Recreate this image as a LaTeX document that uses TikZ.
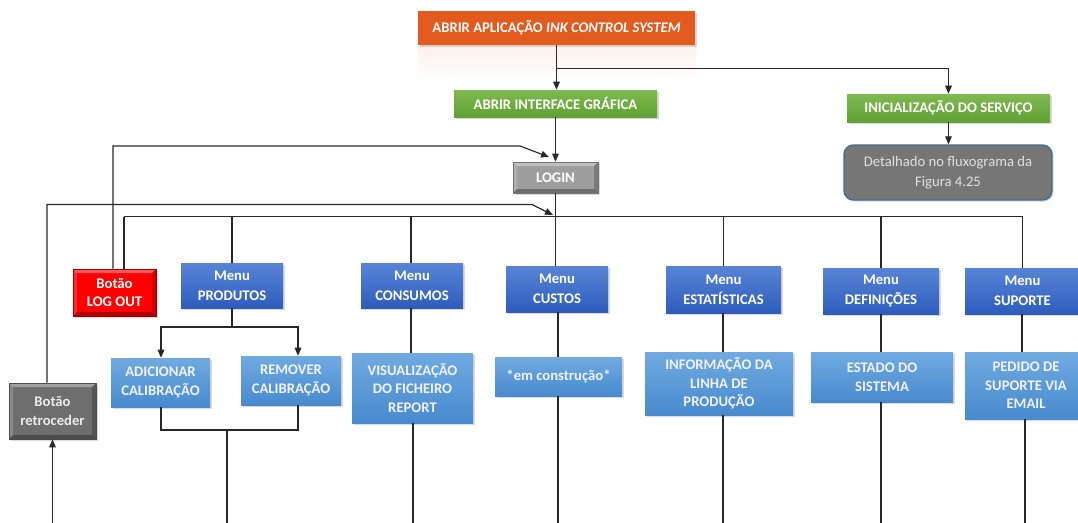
\documentclass[tikz,border=0pt]{standalone}
\usepackage{fontspec}
\setmainfont{Carlito}
\usetikzlibrary{arrows.meta,shadows}

\definecolor{appOr}{RGB}{226,90,30}
\definecolor{grTop}{RGB}{128,186,80}
\definecolor{grBot}{RGB}{96,160,52}
\definecolor{mnTop}{RGB}{88,132,214}
\definecolor{mnBot}{RGB}{46,92,188}
\definecolor{sbTop}{RGB}{112,170,224}
\definecolor{sbBot}{RGB}{72,138,206}
\definecolor{detFill}{RGB}{118,118,118}
\definecolor{detLine}{RGB}{70,105,145}
\definecolor{wireC}{RGB}{40,40,40}

\begin{document}
\begin{tikzpicture}[x=0.75pt,y=-0.75pt,
  sz/.style 2 args={minimum width=#1*0.75pt, minimum height=#2*0.75pt, inner sep=0pt},
  base/.style={font=\bfseries\fontsize{11}{14}\selectfont, text=white, align=center},
  shad/.style={drop shadow={shadow xshift=1.2pt, shadow yshift=-1.2pt, opacity=0.3}},
  appbox/.style={base, shad, fill=appOr},
  greenbox/.style={base, shad, top color=grTop, bottom color=grBot},
  menubox/.style={base, shad, top color=mnTop, bottom color=mnBot,
    font=\bfseries\fontsize{11}{15}\selectfont},
  subbox/.style={base, shad, top color=sbTop, bottom color=sbBot, text=white!95!blue},
  detbox/.style={shad, fill=detFill, draw=detLine, line width=1pt, rounded corners=7pt,
    font=\fontsize{11}{15}\selectfont, text=white!88!black, align=center},
  bevelbox/.style 2 args={base, shad, fill=#1, draw=#2, line width=0.6pt,
    path picture={
      \path (path picture bounding box.north west) coordinate (pNW)
            (path picture bounding box.north east) coordinate (pNE)
            (path picture bounding box.south west) coordinate (pSW)
            (path picture bounding box.south east) coordinate (pSE);
      \fill[white,opacity=0.35] (pNW) -- (pNE) -- ([shift={(-3pt,-3pt)}]pNE)
            -- ([shift={(3pt,-3pt)}]pNW) -- cycle;
      \fill[white,opacity=0.18] (pNW) -- ([shift={(3pt,-3pt)}]pNW)
            -- ([shift={(3pt,3pt)}]pSW) -- (pSW) -- cycle;
      \fill[black,opacity=0.3] (pSW) -- ([shift={(3pt,3pt)}]pSW)
            -- ([shift={(-3pt,3pt)}]pSE) -- (pSE) -- cycle;
      \fill[black,opacity=0.22] (pNE) -- (pSE) -- ([shift={(-3pt,3pt)}]pSE)
            -- ([shift={(-3pt,-3pt)}]pNE) -- cycle;
    }},
  wire/.style={draw=wireC, line width=0.85pt},
  arr/.style={wire, -{Triangle[length=6pt,width=5pt]}}
]
\useasboundingbox (0,0) rectangle (1078,522);
\clip (0,0) rectangle (1078,522);

% faint reflection below the start box
\shade[top color=appOr!9, bottom color=white] (418,45) rectangle (696,80);

% start and top-level boxes
\node[appbox, sz={277}{34}] (app) at (556.5,28) {ABRIR APLICAÇÃO \textit{INK CONTROL SYSTEM}};
\node[greenbox, sz={203}{27}] (gui) at (555.5,103.5) {ABRIR INTERFACE GRÁFICA};
\node[greenbox, sz={203}{28}] (svc) at (948.5,108) {INICIALIZAÇÃO DO SERVIÇO};
\node[detbox, sz={208}{55}] (det) at (948,172.5) {Detalhado no fluxograma da\\Figura 4.25};
\node[bevelbox={black!38}{black!55}, sz={85}{31}] (login) at (555.5,177.5) {LOGIN};

% buttons
\node[bevelbox={red}{red!60!black}, sz={83}{47}] (logout) at (114.5,292.5) {Botão\\LOG OUT};
\node[bevelbox={black!57}{black!70}, sz={87}{56}, text=white!92!black] (back) at (52.5,411) {Botão\\retroceder};

% menus
\node[menubox, sz={102}{45}] (mprod) at (232,285.5) {Menu\\PRODUTOS};
\node[menubox, sz={102}{45}] (mcons) at (412,285.5) {Menu\\CONSUMOS};
\node[menubox, sz={102}{46}] (mcust) at (557,289) {Menu\\CUSTOS};
\node[menubox, sz={115}{47}] (mest) at (723.5,289.5) {Menu\\ESTATÍSTICAS};
\node[menubox, sz={116}{46}] (mdef) at (881,291) {Menu\\DEFINIÇÕES};
\node[menubox, sz={115}{46}] (msup) at (1022.5,291) {Menu\\SUPORTE};

% menu contents
\node[subbox, sz={99}{49}] (add) at (160.5,382.5) {ADICIONAR\\CALIBRAÇÃO};
\node[subbox, sz={100}{49}] (rem) at (291,380.5) {REMOVER\\CALIBRAÇÃO};
\node[subbox, sz={121}{70}] (vis) at (412.5,388) {VISUALIZAÇÃO\\DO FICHEIRO\\REPORT};
\node[subbox, sz={127}{39}] (cons) at (558.5,376.5) {*em construção*};
\node[subbox, sz={148}{63}] (info) at (719,383.5) {INFORMAÇÃO DA\\LINHA DE\\PRODUÇÃO};
\node[subbox, sz={142}{50}] (est) at (882,377) {ESTADO DO\\SISTEMA};
\node[subbox, sz={122}{67}] (ped) at (1026,385.5) {PEDIDO DE\\SUPORTE VIA\\EMAIL};

% helper coordinates
\coordinate (forkY) at (0,68.7);
\coordinate (busY) at (0,216.5);
\coordinate (bot) at (0,530);
\coordinate (loX) at (113,0);
\coordinate (loBend) at (520,146);
\coordinate (loTip) at (549,157);
\coordinate (bkX) at (47,0);
\coordinate (bkBend) at (532,204.5);
\coordinate (bkTip) at (553,215);
\coordinate (splitY) at (0,327);
\coordinate (joinY) at (0,430);
\coordinate (addX) at (161,0);
\coordinate (remX) at (298,0);
\coordinate (midX) at (227,0);

% start sequence
\draw[arr] (app.south) -- (app.south |- gui.north);
\draw[arr] (app.south |- forkY) -| (svc.north);
\draw[arr] (svc.south) -- (svc.south |- det.north);
\draw[arr] (gui.south) -- (login.north);

% return paths to LOGIN
\draw[arr] (logout.north -| loX) |- (loBend) -- (loTip);
\draw[arr] (back.north -| bkX) |- (bkBend) -- (bkTip);
\draw[arr] (back.south |- bot) -- (back.south);

% distribution bus
\draw[wire] (login.south) -- (login.south |- mcust.north);
\draw[wire] (124,216.5) -- (msup.north |- busY);
\draw[wire] (logout.north -| 124,0) -- (124,216.5);
\draw[wire] (mprod.north |- busY) -- (mprod.north);
\draw[wire] (mcons.north -| 411,0) -- (411,216.5);
\draw[wire] (mest.north |- busY) -- (mest.north);
\draw[wire] (mdef.north |- busY) -- (mdef.north);
\draw[wire] (msup.north |- busY) -- (msup.north);

% PRODUTOS branch
\draw[wire] (mprod.south) -- (mprod.south |- splitY);
\draw[arr] (mprod.south |- splitY) -| (add.north -| addX);
\draw[arr] (mprod.south |- splitY) -| (rem.north -| remX);
\draw[wire] (add.south -| addX) |- (joinY -| remX) -- (rem.south -| remX);
\draw[wire] (joinY -| midX) -- (bot -| midX);

% other branches
\draw[wire] (mcons.south -| 411,0) -- (vis.north -| 411,0);
\draw[wire] (vis.south -| 413,0) -- (bot -| 413,0);
\draw[wire] (mcust.south -| 558,0) -- (cons.north -| 558,0);
\draw[wire] (cons.south -| 558,0) -- (bot -| 558,0);
\draw[wire] (mest.south -| 723,0) -- (info.north -| 723,0);
\draw[wire] (info.south -| 723,0) -- (bot -| 723,0);
\draw[wire] (mdef.south -| 881,0) -- (est.north -| 881,0);
\draw[wire] (est.south -| 881,0) -- (bot -| 881,0);
\draw[wire] (msup.south -| 1022,0) -- (ped.north -| 1022,0);
\draw[wire] (ped.south -| 1025,0) -- (bot -| 1025,0);
\end{tikzpicture}
\end{document}
